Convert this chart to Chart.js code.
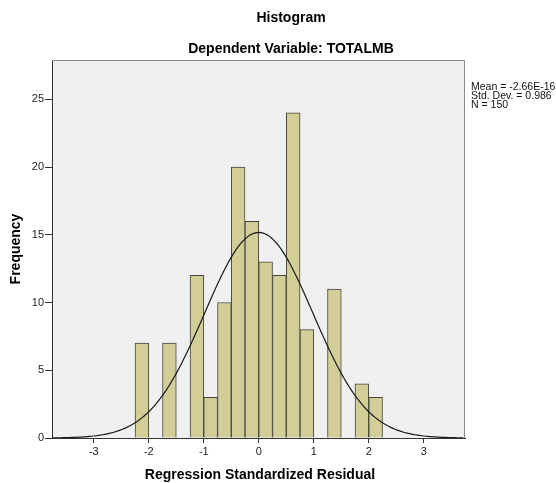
<!DOCTYPE html>
<html>
<head>
<meta charset="utf-8">
<title>Histogram</title>
<script src="https://cdn.jsdelivr.net/npm/chart.js@4/dist/chart.umd.min.js"></script>
<style>
  html, body { margin: 0; padding: 0; background: #ffffff; }
  canvas { display: block; }
</style>
</head>
<body>
<canvas id="histChart" width="556" height="483"></canvas>
<script>
// bin centres (bin width 0.25) and the frequency of each bin
const binCenters = [-2.125, -1.875, -1.625, -1.375, -1.125, -0.875, -0.625, -0.375, -0.125,
                    0.125, 0.375, 0.625, 0.875, 1.125, 1.375, 1.625, 1.875, 2.125];
const frequencies = [7, 0, 7, 0, 12, 3, 10, 20, 16, 13, 12, 24, 8, 0, 11, 0, 4, 3];
const xTicks = [-3, -2, -1, 0, 1, 2, 3];
const yTicks = [0, 5, 10, 15, 20, 25];

// statistics printed next to the plot
const mean = -2.66e-16;
const stdDev = 0.986;
const nCases = 150;
const binWidth = 0.25;
const statLines = ['Mean = -2.66E-16', 'Std. Dev. = 0.986', 'N = 150'];

const FONT = '"Liberation Sans", Arial, sans-serif';

// the normal curve SPSS overlays: N * binWidth * pdf(mean, sd)
const curveXs = [];
for (let x = -3.76; x <= 3.76; x += 0.04) curveXs.push(x);
const normalCurve = curveXs.map(x => ({
  x: x,
  y: nCases * binWidth / (stdDev * Math.sqrt(2 * Math.PI)) *
     Math.exp(-0.5 * Math.pow((x - mean) / stdDev, 2))
}));

const histData = binCenters.map((c, i) => ({ x: c, y: frequencies[i] }));

const plotFrame = {
  id: 'plotFrame',
  beforeDraw(chart) {
    const { ctx, chartArea: a } = chart;
    ctx.save();
    ctx.fillStyle = '#f0f0f0';
    ctx.fillRect(a.left, a.top, a.right - a.left, a.bottom - a.top);
    ctx.restore();
  },
  afterDraw(chart) {
    const { ctx, chartArea: a } = chart;
    ctx.save();
    // top and right frame lines
    ctx.strokeStyle = '#8a8a8a';
    ctx.lineWidth = 1;
    ctx.beginPath();
    ctx.moveTo(a.left, a.top + 0.5);
    ctx.lineTo(a.right - 0.5, a.top + 0.5);
    ctx.lineTo(a.right - 0.5, a.bottom);
    ctx.stroke();

    ctx.fillStyle = '#000';
    ctx.textAlign = 'center';
    ctx.textBaseline = 'middle';
    ctx.font = 'bold 14px ' + FONT;
    ctx.fillText('Histogram', 291, 18);
    ctx.fillText('Dependent Variable: TOTALMB', 291, 49);
    ctx.fillText('Regression Standardized Residual', 260, 475);

    ctx.save();
    ctx.translate(16, (a.top + a.bottom) / 2);
    ctx.rotate(-Math.PI / 2);
    ctx.fillText('Frequency', 0, 0);
    ctx.restore();

    // stats box text
    ctx.textAlign = 'left';
    ctx.font = '10.5px ' + FONT;
    ctx.fillStyle = '#111';
    statLines.forEach((line, i) => {
      ctx.fillText(line, a.right + 6, 87.5 + i * 9);
    });
    ctx.restore();
  }
};

new Chart(document.getElementById('histChart').getContext('2d'), {
  data: {
    datasets: [
      {
        type: 'line',
        label: 'Normal',
        data: normalCurve,
        borderColor: '#1a1a1a',
        borderWidth: 1.2,
        pointRadius: 0,
        tension: 0,
        fill: false
      },
      {
        type: 'bar',
        label: 'Frequency',
        data: histData,
        backgroundColor: '#d3ce98',
        borderColor: '#46463e',
        borderWidth: 1,
        borderSkipped: 'bottom',
        barPercentage: 1.0,
        categoryPercentage: 1.0
      }
    ]
  },
  options: {
    responsive: false,
    animation: false,
    layout: { padding: { left: 0, right: 91, top: 60, bottom: 0 } },
    plugins: {
      legend: { display: false },
      tooltip: { enabled: false },
      title: { display: false }
    },
    scales: {
      x: {
        type: 'linear',
        min: -3.76,
        max: 3.75,
        offset: false,
        afterBuildTicks(scale) { scale.ticks = xTicks.map(v => ({ value: v })); },
        afterFit(scale) { scale.height = 45; },
        ticks: { color: '#222', font: { family: FONT, size: 11 }, padding: 2, maxRotation: 0 },
        grid: { offset: false, drawOnChartArea: false, drawTicks: true, tickLength: 5, color: '#333' },
        border: { color: '#333', width: 1 }
      },
      y: {
        type: 'linear',
        min: 0,
        max: 27.9,
        afterBuildTicks(scale) { scale.ticks = yTicks.map(v => ({ value: v })); },
        afterFit(scale) { scale.width = 52; },
        ticks: { color: '#222', font: { family: FONT, size: 11 }, padding: 1 },
        grid: { drawOnChartArea: false, drawTicks: true, tickLength: 7, color: '#333' },
        border: { color: '#333', width: 1 }
      }
    }
  },
  plugins: [plotFrame]
});
</script>
</body>
</html>
